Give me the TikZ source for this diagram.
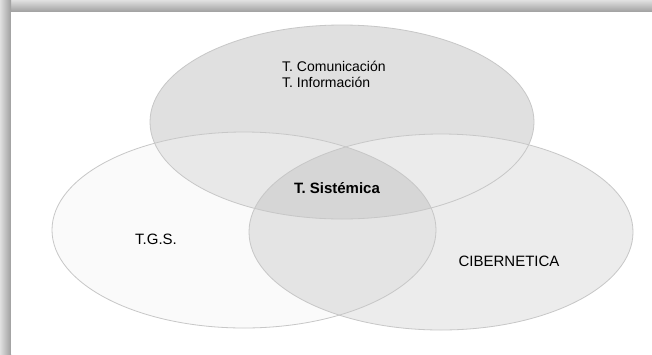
\documentclass[tikz,border=0pt]{standalone}
\usepackage{fontspec}
\setmainfont{Liberation Sans}
\usetikzlibrary{calc}
\tikzset{
  setline/.style={draw=black!22,line width=0.8pt},
  setlabel/.style={inner sep=0pt,font=\fontsize{15}{18}\selectfont,text=black},
  toplabel/.style={setlabel,anchor=base west,font=\fontsize{14}{17}\selectfont}
}
\definecolor{topfill}{HTML}{E0E0E0}
\definecolor{leftfill}{HTML}{FAFAFA}
\definecolor{rightfill}{HTML}{ECECEC}
\definecolor{tlfill}{HTML}{E8E8E8}
\definecolor{trfill}{HTML}{EBEBEB}
\definecolor{lrfill}{HTML}{E4E4E4}
\definecolor{midfill}{HTML}{D6D6D6}
\def\topset{(342,122) ellipse [x radius=192, y radius=97]}
\def\leftset{(244,230) ellipse [x radius=192, y radius=98]}
\def\rightset{(441,232) ellipse [x radius=192, y radius=98]}
\begin{document}
\begin{tikzpicture}[x=1pt,y=-1pt]
  \useasboundingbox (0,0) rectangle (652,354);
  % Frame
  \fill[white] (0,0) rectangle (652,354);
  \shade[top color=black!12,bottom color=black!38] (0,0) rectangle (652,12);
  \shade[left color=black!12,right color=black!38] (0,0) rectangle (11,354);
  \fill[white] (11,12) rectangle (652,354);

  % Sets
  \fill[topfill] \topset;
  \fill[leftfill] \leftset;
  \fill[rightfill] \rightset;

  % Overlaps
  \begin{scope}
    \clip \topset;
    \fill[tlfill] \leftset;
  \end{scope}
  \begin{scope}
    \clip \topset;
    \fill[trfill] \rightset;
  \end{scope}
  \begin{scope}
    \clip \leftset;
    \fill[lrfill] \rightset;
  \end{scope}
  \begin{scope}
    \clip \topset;
    \clip \leftset;
    \fill[midfill] \rightset;
  \end{scope}

  % Outlines
  \draw[setline] \topset;
  \draw[setline] \leftset;
  \draw[setline] \rightset;

  % Labels
  \node[toplabel] (commu) at (282,71) {T. Comunicación};
  \node[toplabel] (info) at (282,87) {T. Información};
  \node[setlabel,anchor=base,font=\fontsize{15}{18}\selectfont\bfseries] (sistemica) at (337,193) {T. Sistémica};
  \node[setlabel,anchor=base] (tgs) at (156,244) {T.G.S.};
  \node[setlabel,anchor=base] (ciber) at (509,266) {CIBERNETICA};
\end{tikzpicture}
\end{document}
